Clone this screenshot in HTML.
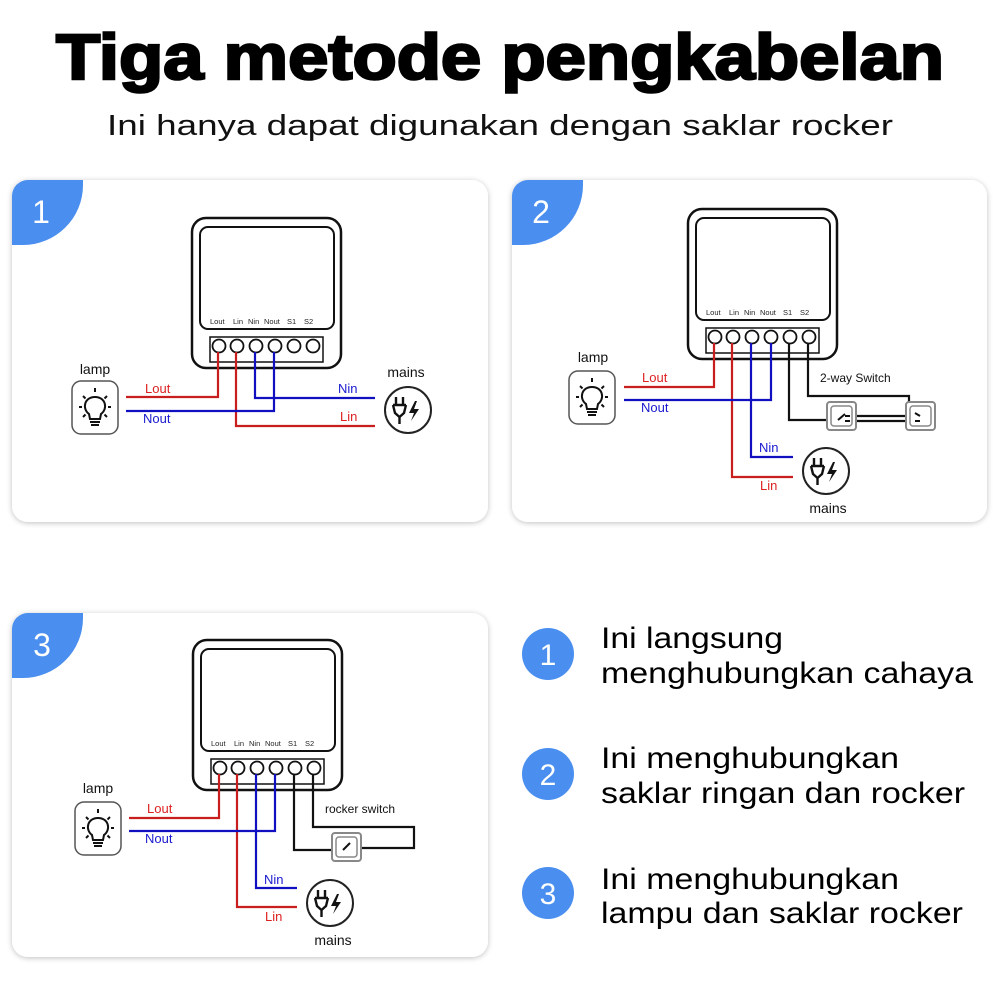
<!DOCTYPE html>
<html><head><meta charset="utf-8"><style>
html,body{margin:0;padding:0;background:#fff;}
svg{display:block;}
text{font-family:"Liberation Sans",sans-serif;}
</style></head><body>
<svg width="1000" height="1000" viewBox="0 0 1000 1000" xmlns="http://www.w3.org/2000/svg">
<defs>
<filter id="sh" x="-5%" y="-5%" width="110%" height="110%"><feGaussianBlur in="SourceAlpha" stdDeviation="3"/><feOffset dy="1"/><feComponentTransfer><feFuncA type="linear" slope="0.25"/></feComponentTransfer><feMerge><feMergeNode/><feMergeNode in="SourceGraphic"/></feMerge></filter>
<g id="lamp">
<rect x="0" y="0" width="46" height="53" rx="9" fill="#fff" stroke="#555" stroke-width="1.5"/>
<path d="M17 33 C10 28 12 16 23 16 C34 16 36 28 29 33 L28 38 L18 38 Z" fill="none" stroke="#111" stroke-width="2"/>
<path d="M18 41 H28 M19 44 H27" stroke="#111" stroke-width="2"/>
<path d="M23 7 V11 M11 15 L13.5 17.5 M35 15 L32.5 17.5 M7 26 H10 M36 26 H39 M11 36 L13.5 33.5 M35 36 L32.5 33.5" stroke="#111" stroke-width="2"/>
</g>
<g id="plug">
<circle cx="0" cy="0" r="23" fill="#fff" stroke="#222" stroke-width="2"/>
<path d="M-12 -13 V-5 M-5 -13 V-5 M-15 -5 H-2 M-15 -5 L-13 3 L-8.5 7 L-8.5 14 M-2 -5 L-4 3 L-8.5 7" fill="none" stroke="#111" stroke-width="2.4"/>
<path d="M7 -9 L1 3 H6 L3 11 L11 -1 H6 L9 -9 Z" fill="#111"/>
</g>
<g id="dev">
<rect x="0" y="0" width="149" height="150" rx="14" fill="#fff" stroke="#111" stroke-width="2.5"/>
<rect x="8" y="9" width="134" height="102" rx="8" fill="#fff" stroke="#111" stroke-width="2"/>
<g font-size="7.5" fill="#222">
<text x="18" y="106">Lout</text><text x="41" y="106">Lin</text><text x="56" y="106">Nin</text><text x="72" y="106">Nout</text><text x="95" y="106">S1</text><text x="112" y="106">S2</text>
</g>
<rect x="18" y="119" width="113" height="25" fill="#fff" stroke="#111" stroke-width="1.5"/>
<g fill="#fff" stroke="#111" stroke-width="1.8">
<circle cx="27" cy="128" r="6.5"/><circle cx="45" cy="128" r="6.5"/><circle cx="64" cy="128" r="6.5"/><circle cx="83" cy="128" r="6.5"/><circle cx="102" cy="128" r="6.5"/><circle cx="121" cy="128" r="6.5"/>
</g>
</g>
<g id="sw">
<rect x="0" y="0" width="29" height="28" rx="3" fill="#fff" stroke="#888" stroke-width="2"/>
<rect x="4" y="4" width="21" height="20" rx="3" fill="#fff" stroke="#888" stroke-width="1.5"/>
</g>
</defs>

<text x="500" y="79" text-anchor="middle" font-size="64" font-weight="bold" textLength="888" lengthAdjust="spacingAndGlyphs" fill="#000" stroke="#000" stroke-width="2.5">Tiga metode pengkabelan</text>
<text x="500" y="135" text-anchor="middle" font-size="29" textLength="786" lengthAdjust="spacingAndGlyphs" fill="#111">Ini hanya dapat digunakan dengan saklar rocker</text>

<!-- Panel 1 -->
<rect x="12" y="180" width="476" height="342" rx="16" fill="#fff" filter="url(#sh)"/>
<path d="M12 196 A16 16 0 0 1 28 180 H83 V185 A60 60 0 0 1 23 245 H12 Z" fill="#4a8ef0"/>
<text x="41" y="223" text-anchor="middle" font-size="32" fill="#fff">1</text>
<use href="#dev" x="192" y="218"/>
<g fill="none" stroke-width="2.2">
<path d="M218 352 V397 H126" stroke="#c81e1e"/>
<path d="M236 352 V426 H375" stroke="#c81e1e"/>
<path d="M255 352 V398 H375" stroke="#1010c0"/>
<path d="M274 352 V411 H126" stroke="#1010c0"/>
</g>
<text x="145" y="393" font-size="13" fill="#d22">Lout</text>
<text x="143" y="423" font-size="13" fill="#1a1ad0">Nout</text>
<text x="338" y="393" font-size="13" fill="#1a1ad0">Nin</text>
<text x="340" y="421" font-size="13" fill="#d22">Lin</text>
<use href="#lamp" x="72" y="381"/>
<text x="95" y="374" text-anchor="middle" font-size="14" fill="#111">lamp</text>
<use href="#plug" x="408" y="410"/>
<text x="406" y="377" text-anchor="middle" font-size="14" fill="#111">mains</text>

<!-- Panel 2 -->
<rect x="512" y="180" width="475" height="342" rx="16" fill="#fff" filter="url(#sh)"/>
<path d="M512 196 A16 16 0 0 1 528 180 H583 V185 A60 60 0 0 1 523 245 H512 Z" fill="#4a8ef0"/>
<text x="541" y="223" text-anchor="middle" font-size="32" fill="#fff">2</text>
<use href="#dev" x="688" y="209"/>
<g fill="none" stroke-width="2.2">
<path d="M714 343 V387 H624" stroke="#c81e1e"/>
<path d="M732 343 V477 H793" stroke="#c81e1e"/>
<path d="M751 343 V457 H793" stroke="#1010c0"/>
<path d="M771 343 V400 H624" stroke="#1010c0"/>
<path d="M789 343 V420 H838" stroke="#111"/>
<path d="M808 343 V396 H909 V405" stroke="#111"/>
<path d="M845 416 H920 M845 421 H920" stroke="#111"/>
</g>
<use href="#sw" x="827" y="402"/>
<use href="#sw" x="906" y="402"/>
<path d="M838 420 L845 414 M845 416 H850 M845 421 H850 M915 413 L920 416 M915 421 H920" stroke="#111" stroke-width="2" fill="none"/>
<text x="642" y="382" font-size="13" fill="#d22">Lout</text>
<text x="641" y="412" font-size="13" fill="#1a1ad0">Nout</text>
<text x="759" y="452" font-size="13" fill="#1a1ad0">Nin</text>
<text x="760" y="490" font-size="13" fill="#d22">Lin</text>
<text x="820" y="382" font-size="12" fill="#111">2-way Switch</text>
<use href="#lamp" x="569" y="371"/>
<text x="593" y="362" text-anchor="middle" font-size="14" fill="#111">lamp</text>
<use href="#plug" x="826" y="471"/>
<text x="828" y="513" text-anchor="middle" font-size="14" fill="#111">mains</text>

<!-- Panel 3 -->
<rect x="12" y="613" width="476" height="344" rx="16" fill="#fff" filter="url(#sh)"/>
<path d="M12 629 A16 16 0 0 1 28 613 H83 V618 A60 60 0 0 1 23 678 H12 Z" fill="#4a8ef0"/>
<text x="42" y="656" text-anchor="middle" font-size="32" fill="#fff">3</text>
<use href="#dev" x="193" y="640"/>
<g fill="none" stroke-width="2.2">
<path d="M219 774 V818 H129" stroke="#c81e1e"/>
<path d="M237 774 V907 H297" stroke="#c81e1e"/>
<path d="M256 774 V888 H297" stroke="#1010c0"/>
<path d="M275 774 V831 H129" stroke="#1010c0"/>
<path d="M294 774 V850 H343" stroke="#111"/>
<path d="M313 774 V827 H414 V848 H352" stroke="#111"/>
</g>
<use href="#sw" x="332" y="833"/>
<path d="M343 850 L350 843" stroke="#111" stroke-width="2"/>
<text x="147" y="813" font-size="13" fill="#d22">Lout</text>
<text x="145" y="843" font-size="13" fill="#1a1ad0">Nout</text>
<text x="264" y="884" font-size="13" fill="#1a1ad0">Nin</text>
<text x="265" y="921" font-size="13" fill="#d22">Lin</text>
<text x="325" y="813" font-size="12" fill="#111">rocker switch</text>
<use href="#lamp" x="75" y="802"/>
<text x="98" y="793" text-anchor="middle" font-size="14" fill="#111">lamp</text>
<use href="#plug" x="330" y="903"/>
<text x="333" y="945" text-anchor="middle" font-size="14" fill="#111">mains</text>

<!-- Right list -->
<circle cx="548" cy="654" r="26" fill="#4a8ef0"/>
<text x="548" y="665" text-anchor="middle" font-size="30" fill="#fff">1</text>
<circle cx="548" cy="774" r="26" fill="#4a8ef0"/>
<text x="548" y="785" text-anchor="middle" font-size="30" fill="#fff">2</text>
<circle cx="548" cy="893" r="26" fill="#4a8ef0"/>
<text x="548" y="904" text-anchor="middle" font-size="30" fill="#fff">3</text>
<g font-size="30" fill="#000">
<text x="601" y="648" textLength="182" lengthAdjust="spacingAndGlyphs">Ini langsung</text>
<text x="601" y="683" textLength="372" lengthAdjust="spacingAndGlyphs">menghubungkan cahaya</text>
<text x="601" y="768" textLength="298" lengthAdjust="spacingAndGlyphs">Ini menghubungkan</text>
<text x="601" y="803" textLength="364" lengthAdjust="spacingAndGlyphs">saklar ringan dan rocker</text>
<text x="601" y="889" textLength="298" lengthAdjust="spacingAndGlyphs">Ini menghubungkan</text>
<text x="601" y="923" textLength="362" lengthAdjust="spacingAndGlyphs">lampu dan saklar rocker</text>
</g>
</svg>
</body></html>
